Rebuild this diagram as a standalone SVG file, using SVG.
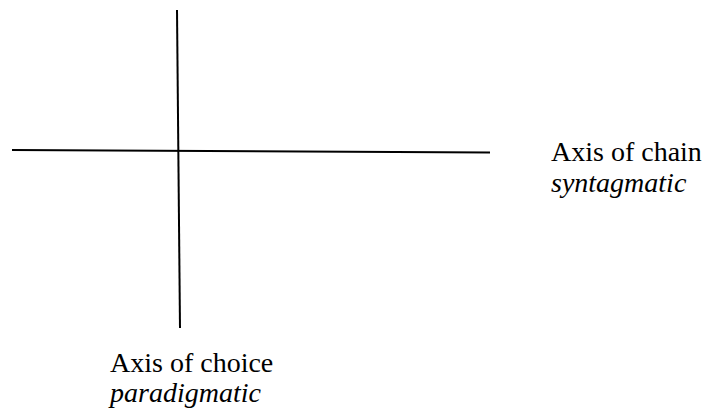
<svg xmlns="http://www.w3.org/2000/svg" width="707" height="409" viewBox="0 0 707 409">
<style>
.ax{stroke:#000;stroke-width:2;fill:none}
.t{font-family:'Liberation Serif','Times New Roman',serif;font-size:28px;fill:#000}
.i{font-style:italic}
</style>
<rect width="707" height="409" fill="#fff"/>
<g id="connectors">
<line class="ax" x1="177" y1="10" x2="180" y2="328"/>
<line class="ax" x1="12" y1="150" x2="490" y2="152.5"/>
</g>
<g id="label-chain">
<text class="t" x="551" y="161">Axis of chain</text>
<text class="t i" x="551" y="192">syntagmatic</text>
</g>
<g id="label-choice">
<text class="t" x="110" y="372">Axis of choice</text>
<text class="t i" x="110" y="402">paradigmatic</text>
</g>
</svg>
